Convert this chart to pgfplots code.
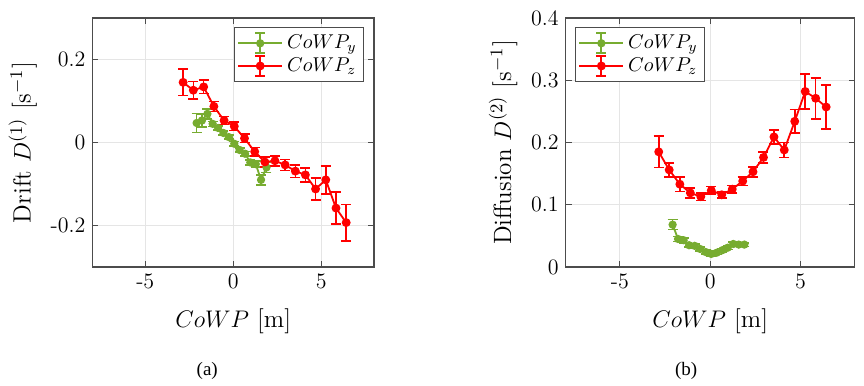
\documentclass[border=0pt]{standalone}
\usepackage{fontspec}
\newfontfamily\capfont{Liberation Serif}
\usepackage{pgfplots}
\pgfplotsset{compat=1.18}
\definecolor{cgreen}{rgb}{0.466,0.674,0.188}
\definecolor{cred}{rgb}{1,0,0}
\definecolor{caxis}{gray}{0.3}
\newcommand{\ticklab}{\fontsize{11}{13}\selectfont}
\newcommand{\axlab}{\fontsize{12.5}{14}\selectfont}
\newcommand{\leglab}{\fontsize{10}{12}\selectfont}

\pgfplotsset{
  panel/.style={
    scale only axis, height=124.5pt,
    xmin=-8, xmax=8, xtick={-5,0,5},
    grid=major, grid style={black!10, line width=0.4pt},
    axis line style={caxis, line width=0.6pt},
    tick align=inside, tick pos=both, major tick length=3pt,
    tick style={caxis, line width=0.5pt},
    tick label style={font=\ticklab, black},
    label style={font=\axlab},
    xlabel style={yshift=-3pt},
    /pgf/number format/assume math mode=true,
    xlabel={$CoWP$ [m]},
    legend cell align=left,
    legend style={font=\leglab, draw=caxis, line width=0.5pt, inner sep=1.5pt, row sep=-1pt},
    legend image code/.code={%
      \draw[#1,mark=none] (11pt,-5pt) -- (11pt,5pt) (8.5pt,-5pt) -- (13.5pt,-5pt) (8.5pt,5pt) -- (13.5pt,5pt);
      \draw[#1,mark repeat=2,mark phase=2] plot coordinates {(0pt,0pt) (11pt,0pt) (22pt,0pt)};
    },
  },
  every axis plot/.append style={line width=0.9pt,
    error bars/y dir=both, error bars/y explicit,
    error bars/error bar style={line width=0.8pt},
    error bars/error mark=-,
    error bars/error mark options={rotate=90, mark size=2.5pt, line width=0.8pt}},
}

\begin{document}
\begin{tikzpicture}
\useasboundingbox (-46.25pt,-59.5pt) rectangle (385.75pt,133.5pt);
% (a) drift
\begin{axis}[panel, name=ax1, at={(0pt,0pt)}, anchor=south west, width=140.75pt,
  ymin=-0.3, ymax=0.3, ytick={-0.2,0,0.2},
  ylabel={Drift $D^{(1)}$ [s$^{-1}$]},
  legend style={at={(0.965,0.962)}, anchor=north east}]
\addplot[cgreen, mark=*, mark size=1.6pt] coordinates {
(-2.08,0.047) +- (0,0.023)
(-1.78,0.053) +- (0,0.016)
(-1.47,0.069) +- (0,0.012)
(-1.17,0.045) +- (0,0.006)
(-0.86,0.035) +- (0,0.005)
(-0.56,0.023) +- (0,0.005)
(-0.25,0.013) +- (0,0.005)
(0.06,-0.003) +- (0,0.005)
(0.36,-0.018) +- (0,0.005)
(0.67,-0.027) +- (0,0.005)
(0.97,-0.048) +- (0,0.006)
(1.28,-0.052) +- (0,0.007)
(1.58,-0.090) +- (0,0.012)
(1.89,-0.060) +- (0,0.012)
};
\addlegendentry{$CoWP_y$}
\addplot[cred, mark=*, mark size=1.75pt] coordinates {
(-2.85,0.145) +- (0,0.032)
(-2.27,0.126) +- (0,0.021)
(-1.68,0.134) +- (0,0.016)
(-1.10,0.087) +- (0,0.012)
(-0.52,0.053) +- (0,0.010)
(0.06,0.039) +- (0,0.010)
(0.64,0.010) +- (0,0.010)
(1.22,-0.022) +- (0,0.010)
(1.80,-0.047) +- (0,0.012)
(2.37,-0.044) +- (0,0.012)
(2.95,-0.054) +- (0,0.013)
(3.53,-0.069) +- (0,0.015)
(4.10,-0.078) +- (0,0.017)
(4.68,-0.112) +- (0,0.026)
(5.26,-0.090) +- (0,0.034)
(5.84,-0.158) +- (0,0.039)
(6.42,-0.193) +- (0,0.044)
};
\addlegendentry{$CoWP_z$}
\end{axis}
% (b) diffusion
\begin{axis}[panel, name=ax2, at={(236.6pt,0pt)}, anchor=south west, width=144.5pt,
  ymin=0, ymax=0.4, ytick={0,0.1,0.2,0.3,0.4},
  ylabel={Diffusion $D^{(2)}$ [s$^{-1}$]},
  legend style={at={(0.032,0.962)}, anchor=north west}]
\addplot[cgreen, mark=*, mark size=1.6pt] coordinates {
(-2.08,0.068) +- (0,0.008)
(-1.78,0.045) +- (0,0.004)
(-1.47,0.043) +- (0,0.004)
(-1.17,0.035) +- (0,0.003)
(-0.86,0.034) +- (0,0.003)
(-0.56,0.029) +- (0,0.003)
(-0.25,0.024) +- (0,0.003)
(0.06,0.021) +- (0,0.003)
(0.36,0.023) +- (0,0.003)
(0.67,0.027) +- (0,0.003)
(0.97,0.031) +- (0,0.003)
(1.28,0.037) +- (0,0.003)
(1.58,0.036) +- (0,0.003)
(1.89,0.036) +- (0,0.003)
};
\addlegendentry{$CoWP_y$}
\addplot[cred, mark=*, mark size=1.75pt] coordinates {
(-2.85,0.185) +- (0,0.025)
(-2.27,0.156) +- (0,0.011)
(-1.68,0.133) +- (0,0.012)
(-1.10,0.119) +- (0,0.008)
(-0.52,0.113) +- (0,0.006)
(0.06,0.123) +- (0,0.006)
(0.64,0.116) +- (0,0.005)
(1.22,0.125) +- (0,0.006)
(1.80,0.138) +- (0,0.007)
(2.37,0.153) +- (0,0.008)
(2.95,0.176) +- (0,0.009)
(3.53,0.209) +- (0,0.011)
(4.10,0.188) +- (0,0.012)
(4.68,0.234) +- (0,0.019)
(5.26,0.282) +- (0,0.028)
(5.84,0.271) +- (0,0.033)
(6.42,0.257) +- (0,0.035)
};
\addlegendentry{$CoWP_z$}
\end{axis}
\node[font=\capfont\fontsize{9.5}{11}\selectfont] at ([xshift=-13pt,yshift=-51.8pt]ax1.south) {(a)};
\node[font=\capfont\fontsize{9.5}{11}\selectfont] at ([xshift=-12pt,yshift=-51.8pt]ax2.south) {(b)};
\end{tikzpicture}
\end{document}
